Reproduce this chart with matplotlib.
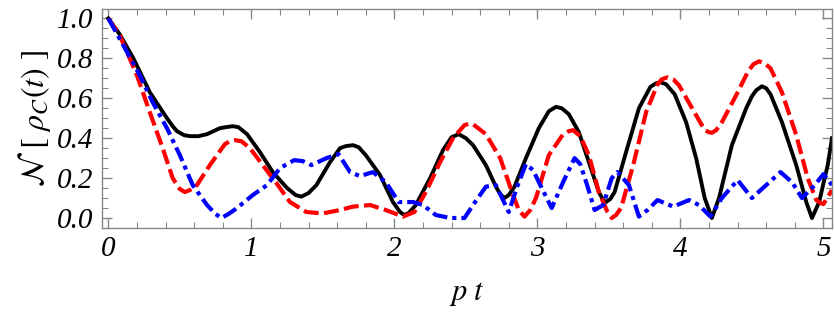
import matplotlib
matplotlib.use('Agg')
import matplotlib.pyplot as plt
from matplotlib.ticker import MultipleLocator, FormatStrFormatter

# values
x_black = [0, 0.08, 0.175, 0.29, 0.41, 0.45, 0.48, 0.53, 0.57, 0.63, 0.69, 0.78, 0.82, 0.87, 0.91,
           0.97, 1.06, 1.15, 1.25, 1.31, 1.35, 1.40, 1.455, 1.55, 1.62, 1.66, 1.71, 1.75, 1.80,
           1.90, 1.99, 2.04, 2.07, 2.10, 2.15, 2.25, 2.34, 2.40, 2.45, 2.50, 2.55, 2.64, 2.71,
           2.74, 2.77, 2.80, 2.84, 2.92, 3.01, 3.08, 3.13, 3.17, 3.22, 3.29, 3.36, 3.43, 3.46,
           3.48, 3.51, 3.54, 3.62, 3.71, 3.79, 3.83, 3.86, 3.90, 3.96, 4.04, 4.11, 4.17, 4.22,
           4.27, 4.36, 4.46, 4.50, 4.53, 4.57, 4.60, 4.63, 4.71, 4.81, 4.88, 4.92, 4.97, 5.03, 5.06]
y_black = [1.0, 0.92, 0.80, 0.63, 0.50, 0.46, 0.435, 0.415, 0.41, 0.41, 0.42, 0.45, 0.455, 0.46,
           0.455, 0.42, 0.33, 0.23, 0.15, 0.115, 0.107, 0.125, 0.165, 0.28, 0.35, 0.36, 0.365,
           0.355, 0.315, 0.215, 0.08, 0.03, 0.015, 0.025, 0.065, 0.20, 0.34, 0.405, 0.42, 0.40,
           0.365, 0.265, 0.157, 0.12, 0.10, 0.115, 0.157, 0.30, 0.45, 0.535, 0.557, 0.55, 0.52,
           0.43, 0.28, 0.13, 0.09, 0.08, 0.095, 0.13, 0.33, 0.55, 0.657, 0.675, 0.68, 0.67, 0.62,
           0.48, 0.30, 0.10, 0.0, 0.10, 0.365, 0.55, 0.61, 0.64, 0.66, 0.65, 0.62, 0.48, 0.265,
           0.08, 0.0, 0.08, 0.265, 0.40]

x_red = [0, 0.08, 0.20, 0.29, 0.38, 0.45, 0.50, 0.535, 0.57, 0.62, 0.71, 0.815, 0.85, 0.885,
         0.93, 0.99, 1.08, 1.18, 1.27, 1.385, 1.50, 1.62, 1.71, 1.83, 1.94, 2.06, 2.14, 2.22,
         2.32, 2.41, 2.49, 2.52, 2.55, 2.64, 2.74, 2.83, 2.87, 2.91, 2.95, 2.99, 3.08, 3.18,
         3.22, 3.25, 3.30, 3.36, 3.43, 3.49, 3.52, 3.55, 3.585, 3.67, 3.76, 3.84, 3.87, 3.91,
         3.95, 3.99, 4.07, 4.17, 4.20, 4.22, 4.25, 4.29, 4.39, 4.47, 4.51, 4.55, 4.59, 4.63,
         4.71, 4.81, 4.89, 4.95, 4.98, 5.00, 5.06]
y_red = [1.0, 0.915, 0.715, 0.53, 0.35, 0.20, 0.145, 0.13, 0.14, 0.165, 0.265, 0.37, 0.385, 0.39,
         0.385, 0.35, 0.265, 0.17, 0.08, 0.03, 0.023, 0.04, 0.057, 0.065, 0.04, 0.007, 0.03, 0.13,
         0.28, 0.40, 0.465, 0.472, 0.47, 0.42, 0.30, 0.115, 0.04, 0.007, 0.04, 0.10, 0.315, 0.42,
         0.435, 0.44, 0.41, 0.315, 0.13, 0.03, 0.0, 0.015, 0.05, 0.265, 0.53, 0.67, 0.695, 0.705,
         0.695, 0.665, 0.565, 0.44, 0.43, 0.427, 0.44, 0.48, 0.615, 0.73, 0.77, 0.785, 0.775, 0.75,
         0.63, 0.415, 0.20, 0.09, 0.075, 0.07, 0.14]

x_blue = [0, 0.105, 0.22, 0.31, 0.41, 0.50, 0.59, 0.69, 0.75, 0.79, 0.84, 0.90, 1.01, 1.11, 1.20,
          1.30, 1.36, 1.42, 1.525, 1.61, 1.69, 1.76, 1.85, 1.94, 2.03, 2.13, 2.20, 2.29, 2.39,
          2.49, 2.55, 2.64, 2.71, 2.76, 2.80, 2.86, 2.92, 2.97, 3.01, 3.10, 3.18, 3.26, 3.30,
          3.35, 3.40, 3.46, 3.52, 3.56, 3.64, 3.71, 3.77, 3.84, 3.95, 4.06, 4.13, 4.21, 4.29,
          4.40, 4.50, 4.60, 4.70, 4.78, 4.85, 4.94, 5.00, 5.06]
y_blue = [1.0, 0.865, 0.715, 0.58, 0.45, 0.315, 0.165, 0.065, 0.02, 0.0, 0.02, 0.05, 0.115, 0.165,
          0.25, 0.29, 0.285, 0.265, 0.30, 0.32, 0.23, 0.21, 0.23, 0.18, 0.08, 0.08, 0.065, 0.015,
          0.0, 0.0, 0.065, 0.157, 0.165, 0.09, 0.03, 0.16, 0.27, 0.24, 0.18, 0.05, 0.18, 0.30,
          0.27, 0.16, 0.04, 0.065, 0.20, 0.23, 0.165, 0.007, 0.04, 0.09, 0.057, 0.09, 0.065,
          0.007, 0.10, 0.19, 0.10, 0.165, 0.23, 0.18, 0.10, 0.165, 0.22, 0.165]

plt.rcParams['mathtext.fontset'] = 'stix'
plt.rcParams['font.family'] = 'Liberation Serif'

fig = plt.figure(figsize=(8.34, 3.25), dpi=100)
ax = fig.add_axes([0.122, 0.2985, 0.8756, 0.6725])

ax.plot(x_black, y_black, color='black', lw=2.8, solid_joinstyle='round')
ax.plot(x_red, y_red, color='red', lw=3, dashes=(3.6, 1.3))
ax.plot(x_blue, y_blue, color='blue', lw=3, dashes=(3.6, 1.2, 1.0, 1.2))

ax.set_xlim(-0.046, 5.06)
ax.set_ylim(-0.05, 1.045)

ax.xaxis.set_major_locator(MultipleLocator(1))
ax.xaxis.set_minor_locator(MultipleLocator(0.2))
ax.yaxis.set_major_locator(MultipleLocator(0.2))
ax.yaxis.set_minor_locator(MultipleLocator(0.05))
ax.yaxis.set_major_formatter(FormatStrFormatter('%.1f'))

ax.tick_params(which='both', direction='in', top=True, right=True, color='#888888')
ax.tick_params(which='major', length=7, width=1, labelsize=21, pad=6)
ax.tick_params(which='minor', length=4, width=0.8)
for lab in ax.get_xticklabels() + ax.get_yticklabels():
    lab.set_fontstyle('italic')
for s in ax.spines.values():
    s.set_color('#888888')
    s.set_linewidth(1)

ax.set_xlabel(r'$p\ t$', fontsize=22, labelpad=12)
ax.set_ylabel(r'$\mathcal{N}\ [\ \rho_C(t)\ ]$', fontsize=23, labelpad=3)

fig.savefig('out.png', dpi=100)
